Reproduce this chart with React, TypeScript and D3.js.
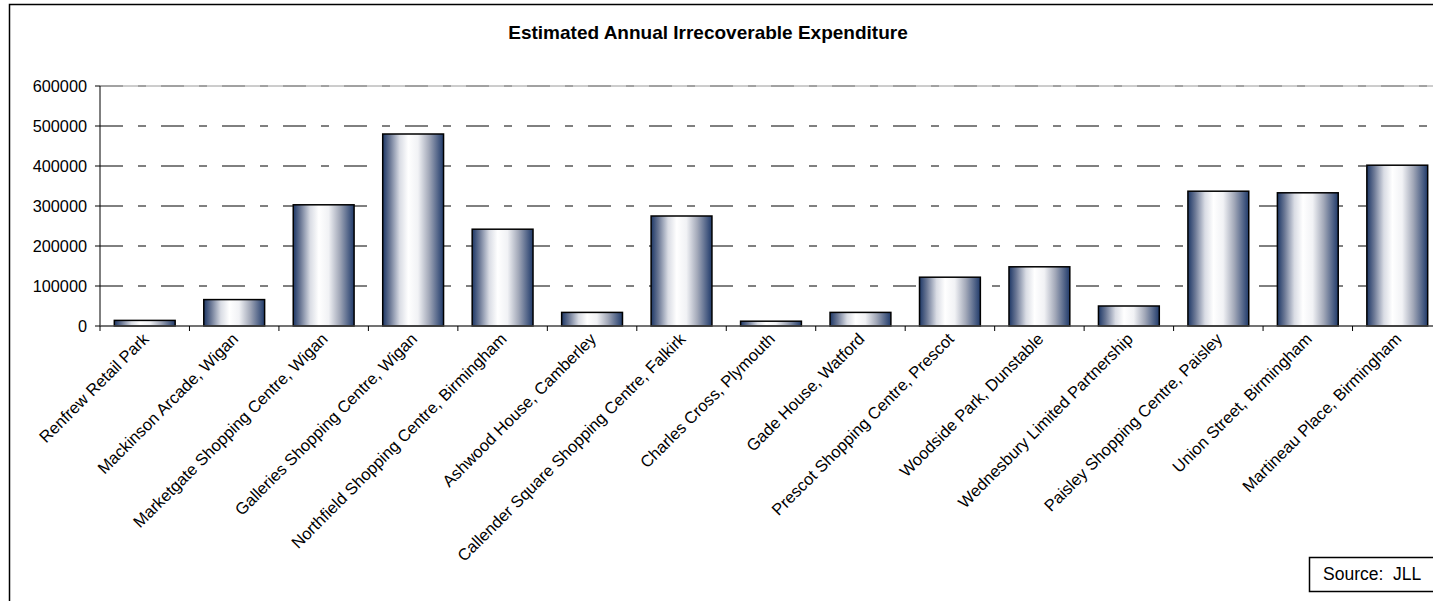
import React, { useEffect, useRef } from "react";
import * as d3 from "d3";

const categories = [
  "Renfrew Retail Park",
  "Mackinson Arcade, Wigan",
  "Marketgate Shopping Centre, Wigan",
  "Galleries Shopping Centre, Wigan",
  "Northfield Shopping Centre, Birmingham",
  "Ashwood House, Camberley",
  "Callender Square Shopping Centre, Falkirk",
  "Charles Cross, Plymouth",
  "Gade House, Watford",
  "Prescot Shopping Centre, Prescot",
  "Woodside Park, Dunstable",
  "Wednesbury Limited Partnership",
  "Paisley Shopping Centre, Paisley",
  "Union Street, Birmingham",
  "Martineau Place, Birmingham",
];
const values = [14000, 66000, 303000, 480000, 242000, 34000, 275000, 12000, 34000, 122000, 148000, 50000, 337000, 333000, 402000];
const yTicks = [0, 100000, 200000, 300000, 400000, 500000, 600000];
const title = "Estimated Annual Irrecoverable Expenditure";
const sourceText = "Source:  JLL";

const W = 1433;
const H = 601;
const FONT = "Arial, 'Liberation Sans', sans-serif";

export default function App() {
  const ref = useRef<SVGSVGElement>(null);
  useEffect(() => {
    const svg = d3.select(ref.current);
    svg.selectAll("*").remove();
    const left = 100, right = 1442, top = 86, bottom = 326;

    const defs = svg.append("defs");
    const grad = defs.append("linearGradient").attr("id", "barGrad").attr("x1", "0%").attr("x2", "100%").attr("y1", "0%").attr("y2", "0%");
    const stops: [string, string][] = [
      ["0%", "#1d3766"], ["12%", "#6b7895"], ["28%", "#d9dce4"], ["42%", "#ffffff"], ["58%", "#f1f2f5"], ["76%", "#a3a9b9"], ["100%", "#203a6a"],
    ];
    stops.forEach(([o, c]) => grad.append("stop").attr("offset", o).attr("stop-color", c));

    // frame
    svg.append("rect").attr("x", 9.5).attr("y", 4.5).attr("width", 1500).attr("height", 700).attr("fill", "white").attr("stroke", "black").attr("stroke-width", 1.5);

    const x = d3.scaleBand<string>().domain(categories).range([left, right]).paddingInner(0.32).paddingOuter(0.16);
    const xEdge = d3.scaleLinear().domain([0, categories.length]).range([left, right]);
    const y = d3.scaleLinear().domain([0, 600000]).range([bottom, top]);

    // title
    svg.append("text").attr("x", 708).attr("y", 39).attr("text-anchor", "middle").attr("font-family", FONT).attr("font-weight", "bold").attr("font-size", 19).text(title);

    // plot top border (gray)
    svg.append("line").attr("x1", left).attr("x2", right).attr("y1", y(600000)).attr("y2", y(600000)).attr("stroke", "#9a9a9a").attr("stroke-width", 1);

    // gridlines
    svg.append("g").selectAll("line").data(yTicks.filter((t) => t > 0)).join("line")
      .attr("x1", left).attr("x2", right).attr("y1", (d) => y(d)).attr("y2", (d) => y(d))
      .attr("stroke", (d) => (d === 600000 ? "#777" : "black")).attr("stroke-width", 1).attr("stroke-dasharray", "23 15 8 15");

    // bars
    svg.append("g").selectAll("rect").data(values).join("rect")
      .attr("x", (_, i) => x(categories[i])!).attr("width", x.bandwidth())
      .attr("y", (d) => y(d)).attr("height", (d) => y(0) - y(d))
      .attr("fill", "url(#barGrad)").attr("stroke", "black").attr("stroke-width", 1.5);

    // y axis
    svg.append("line").attr("x1", left).attr("x2", left).attr("y1", top).attr("y2", bottom).attr("stroke", "black").attr("stroke-width", 1);
    const ya = svg.append("g");
    ya.selectAll("line").data(yTicks).join("line").attr("x1", left - 5).attr("x2", left).attr("y1", (d) => y(d)).attr("y2", (d) => y(d)).attr("stroke", "black");
    ya.selectAll("text").data(yTicks).join("text").attr("x", left - 13).attr("y", (d) => y(d)).attr("dy", "0.36em")
      .attr("text-anchor", "end").attr("font-family", FONT).attr("font-size", 16.3).text((d) => String(d));

    // x axis
    svg.append("line").attr("x1", left).attr("x2", right).attr("y1", bottom).attr("y2", bottom).attr("stroke", "#444").attr("stroke-width", 1.5);
    svg.append("g").selectAll("line").data(d3.range(categories.length + 1)).join("line")
      .attr("x1", (d) => xEdge(d)).attr("x2", (d) => xEdge(d)).attr("y1", bottom).attr("y2", bottom + 5).attr("stroke", "black");
    svg.append("g").selectAll("text").data(categories).join("text")
      .attr("transform", (d) => `translate(${x(d)! + x.bandwidth() / 2 + 1},${bottom + 10}) rotate(-45)`)
      .attr("text-anchor", "end").attr("dy", "0.35em").attr("font-family", FONT).attr("font-size", 16.5).text((d) => d);

    // source box
    svg.append("rect").attr("x", 1309.5).attr("y", 557.5).attr("width", 200).attr("height", 34).attr("fill", "white").attr("stroke", "black").attr("stroke-width", 1.5);
    svg.append("text").attr("x", 1323).attr("y", 580).attr("font-family", FONT).attr("font-size", 17.5).style("white-space", "pre").text(sourceText);
  }, []);
  return (
    <div style={{ position: "fixed", left: 0, top: 0, width: W, height: H, overflow: "hidden", background: "white" }}>
      <svg ref={ref} width={W} height={H} style={{ display: "block" }} />
    </div>
  );
}
